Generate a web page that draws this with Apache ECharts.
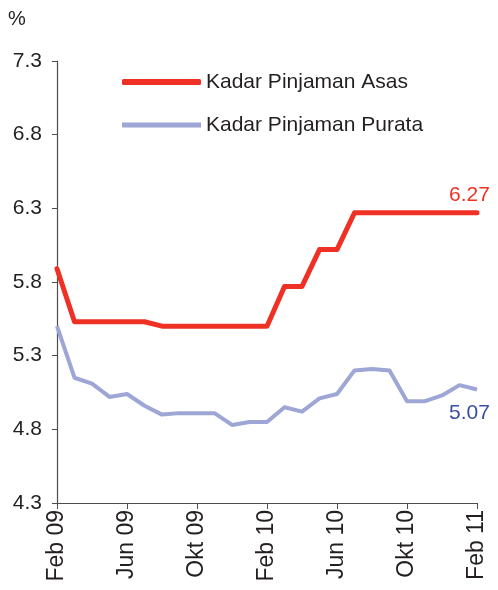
<!DOCTYPE html>
<html>
<head>
<meta charset="utf-8">
<script src="https://cdn.jsdelivr.net/npm/echarts@6/dist/echarts.min.js"></script>
<style>
  html, body { margin: 0; padding: 0; background: #fff; }
  #chart { width: 498px; height: 590px; }
</style>
</head>
<body>
<div id="chart"></div>
<script>
// bulan Feb 09 - Feb 11
var months = ['Feb 09', 'Mac 09', 'Apr 09', 'Mei 09', 'Jun 09', 'Jul 09', 'Ogo 09', 'Sep 09', 'Okt 09', 'Nov 09', 'Dis 09', 'Jan 10',
    'Feb 10', 'Mac 10', 'Apr 10', 'Mei 10', 'Jun 10', 'Jul 10', 'Ogo 10', 'Sep 10', 'Okt 10', 'Nov 10', 'Dis 10', 'Jan 11', 'Feb 11'];
// Kadar Pinjaman Asas
var blr = [5.89, 5.53, 5.53, 5.53, 5.53, 5.53, 5.50, 5.50, 5.50, 5.50, 5.50, 5.50,
    5.50, 5.77, 5.77, 6.02, 6.02, 6.27, 6.27, 6.27, 6.27, 6.27, 6.27, 6.27, 6.27];
// Kadar Pinjaman Purata
var alr = [5.50, 5.15, 5.11, 5.02, 5.04, 4.96, 4.90, 4.91, 4.91, 4.91, 4.83, 4.85,
    4.85, 4.95, 4.92, 5.01, 5.04, 5.20, 5.21, 5.20, 4.99, 4.99, 5.03, 5.10, 5.07];
var yTicks = [4.3, 4.8, 5.3, 5.8, 6.3, 6.8, 7.3];

var font = '"Liberation Sans", Arial, sans-serif';
var txt = '#231f20';
var axisCol = '#4d4d4d';

var chart = echarts.init(document.getElementById('chart'));
chart.setOption({
    animation: false,
    title: {
        text: '%', left: 3, top: 4,
        textStyle: {fontFamily: font, fontSize: 20, fontWeight: 'normal', color: txt}
    },
    legend: [
        {
            data: [{name: 'Kadar Pinjaman Asas', icon: 'roundRect'}],
            left: 122, top: 70, padding: 0, itemWidth: 79, itemHeight: 6,
            textStyle: {fontFamily: font, fontSize: 21, color: txt, lineHeight: 24}
        },
        {
            data: [{name: 'Kadar Pinjaman Purata', icon: 'rect'}],
            left: 122, top: 113, padding: 0, itemWidth: 79, itemHeight: 5,
            textStyle: {fontFamily: font, fontSize: 21, color: txt, lineHeight: 24}
        }
    ],
    grid: {left: 57, right: 21, top: 61, bottom: 87, containLabel: false},
    xAxis: {
        type: 'category',
        data: months,
        boundaryGap: false,
        axisLine: {lineStyle: {color: axisCol, width: 1.2}},
        axisTick: {interval: 3, length: 6, lineStyle: {color: axisCol}},
        axisLabel: {
            interval: 3, rotate: 90, margin: 7,
            fontFamily: font, fontSize: 23, color: txt
        }
    },
    yAxis: {
        type: 'value',
        min: 4.3, max: 7.3,
        splitLine: {show: false},
        axisLine: {show: true, lineStyle: {color: axisCol, width: 1.2}},
        axisTick: {show: true, length: 5, customValues: yTicks, lineStyle: {color: axisCol}},
        axisLabel: {
            customValues: yTicks, margin: 15,
            fontFamily: font, fontSize: 21, color: txt,
            formatter: function (v) { return v.toFixed(1); }
        }
    },
    series: [
        {
            name: 'Kadar Pinjaman Asas',
            type: 'line',
            data: blr,
            symbol: 'none',
            itemStyle: {color: '#ee3124'},
            lineStyle: {color: '#ee3124', width: 5, cap: 'round', join: 'round'},
            endLabel: {
                show: true, offset: [-36, -18],
                fontFamily: font, fontSize: 21, color: '#ee3124',
                formatter: function (p) { return p.value.toFixed(2); }
            }
        },
        {
            name: 'Kadar Pinjaman Purata',
            type: 'line',
            data: alr,
            symbol: 'none',
            itemStyle: {color: '#9da6d4'},
            lineStyle: {color: '#9da6d4', width: 4, join: 'round'},
            endLabel: {
                show: true, offset: [-36, 24],
                fontFamily: font, fontSize: 21, color: '#3a4fa0',
                formatter: function (p) { return p.value.toFixed(2); }
            }
        }
    ]
});
</script>
</body>
</html>
